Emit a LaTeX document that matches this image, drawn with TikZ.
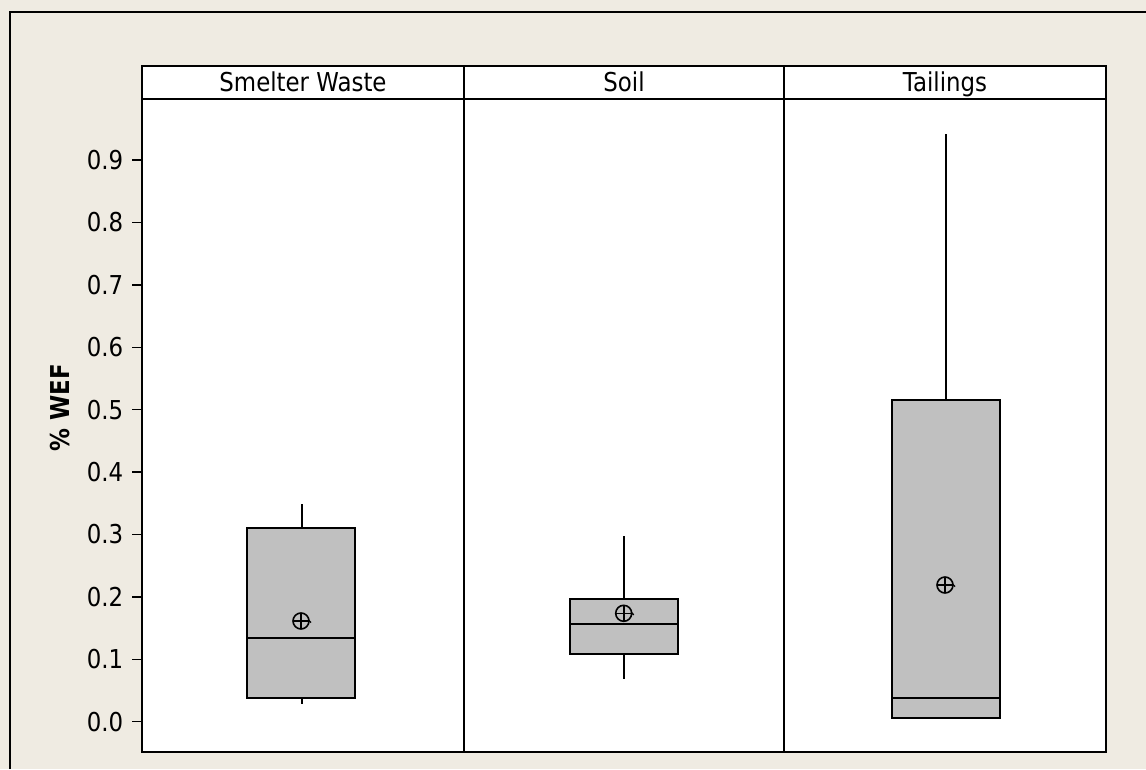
\documentclass[tikz,border=0pt]{standalone}
\usepackage{fontspec}
\setmainfont{DejaVu Sans}[FakeStretch=0.88]
\usetikzlibrary{calc}
\begin{document}
\begin{tikzpicture}[x=1pt,y=-1pt,
  frame/.style={draw=black,line width=1.8pt},
  boxfill/.style={fill=boxgray,draw=black,line width=1.8pt},
  whisk/.style={draw=black,line width=1.8pt},
  ticklab/.style={anchor=east,inner sep=0pt,font=\fontsize{26}{30}\selectfont},
  headlab/.style={anchor=base,inner sep=0pt,font=\fontsize{26}{30}\selectfont}]
\definecolor{bgbeige}{RGB}{239,235,226}
\definecolor{boxgray}{RGB}{192,192,192}
\useasboundingbox (0,0) rectangle (1146,769);
\fill[bgbeige] (0,0) rectangle (1146,769);
\draw[line width=1.5pt] (10,769) -- (10,12) -- (1146,12);
% panel
\fill[white] (142,66) rectangle (1106,752);
% header labels
\node[headlab] (h1) at (303,91) {Smelter Waste};
\node[headlab] (h2) at (624,91) {Soil};
\node[headlab] (h3) at (945,91) {Tailings};
% y ticks
\foreach \v/\t in {0/0.0,1/0.1,2/0.2,3/0.3,4/0.4,5/0.5,6/0.6,7/0.7,8/0.8,9/0.9}{
  \coordinate (tk\v) at (142,721.7-62.4*\v);
  \draw[line width=1.5pt] (tk\v) -- ++(-10,0);
  \node[ticklab] (lab\v) at (123.5,721.7-62.4*\v) {\t};
}
\node[rotate=90,inner sep=0pt,font=\fontsize{26}{30}\selectfont\bfseries] (ylab) at (60,408) {\% WEF};
% Smelter Waste
\coordinate (w1t) at (302,504);
\coordinate (w1b) at (302,703.5);
\draw[whisk] (w1t) -- (302,527.7);
\draw[whisk] (302,697.7) -- (w1b);
\draw[boxfill] (247.3,527.7) rectangle (355.3,697.7);
\draw[whisk] (247.3,638) -- (355.3,638);
% Soil
\coordinate (w2t) at (623.7,536);
\coordinate (w2b) at (623.7,679.3);
\draw[whisk] (w2t) -- (623.7,599.3);
\draw[whisk] (623.7,653.7) -- (w2b);
\draw[boxfill] (570,599.3) rectangle (677.7,653.7);
\draw[whisk] (570,624) -- (677.7,624);
% Tailings
\coordinate (w3t) at (946,134);
\draw[whisk] (w3t) -- (946,400);
\draw[boxfill] (891.7,400) rectangle (1000,717.7);
\draw[whisk] (891.7,697.7) -- (1000,697.7);
% mean markers
\foreach \n/\mx/\my in {m1/301/621,m2/623.7/613.3,m3/945/585}{
  \coordinate (\n) at (\mx,\my);
  \draw[line width=1.6pt] (\n) circle (8);
  \draw[line width=1.6pt] ($(\n)+(-8,0)$) -- ($(\n)+(8,0)$);
  \draw[line width=1.6pt] ($(\n)+(0,-8)$) -- ($(\n)+(0,8)$);
  \draw[line width=1.4pt] ($(\n)+(7.5,-1)$) -- ($(\n)+(10,1.5)$);
}
% panel frame and dividers
\draw[frame] (142,66) rectangle (1106,752);
\draw[frame] (142,99) -- (1106,99);
\draw[frame] (464,66) -- (464,752);
\draw[frame] (784,66) -- (784,752);
\end{tikzpicture}
\end{document}
